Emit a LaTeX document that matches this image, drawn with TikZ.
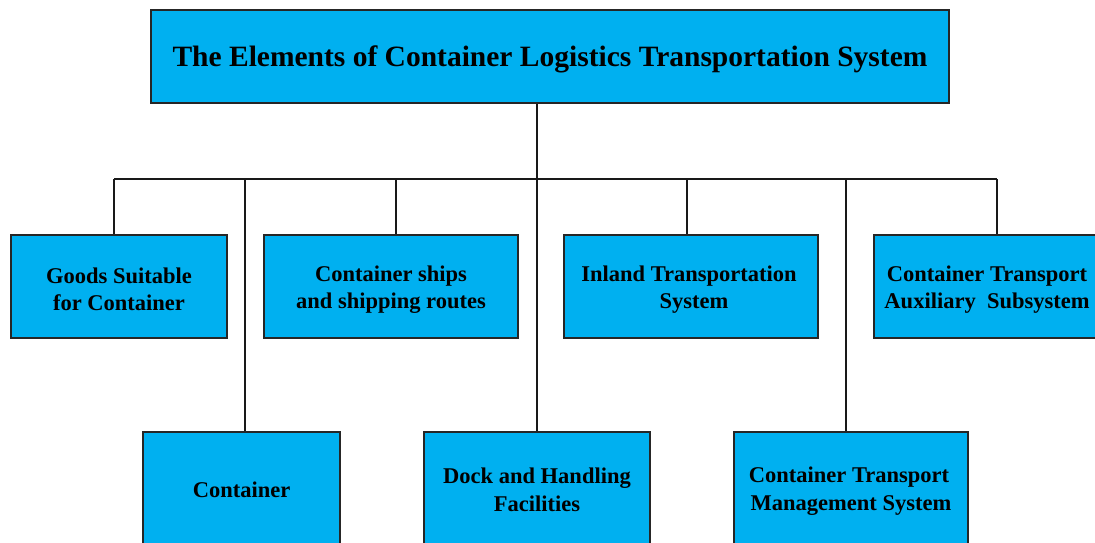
\documentclass[tikz,border=0pt]{standalone}
\usepackage{fontspec}
\setmainfont{Liberation Serif}
\begin{document}
\begin{tikzpicture}[x=1pt,y=-1pt,
  box/.style={draw=black!85,line width=1.3pt,fill=boxblue,rectangle,inner sep=0pt},
  lbl/.style={inner sep=0pt,font=\bfseries\fontsize{22.5}{27.5}\selectfont,align=center},
  conn/.style={line width=2pt,draw=black!90}]
\definecolor{boxblue}{HTML}{00B0F0}
\clip (0,0) rectangle (1095,543);
\useasboundingbox (0,0) rectangle (1095,543);
\fill[white] (0,0) rectangle (1095,543);
% top
\node[box,minimum width=798pt,minimum height=93pt] (top) at (550,56.5) {};
\node[lbl,font=\bfseries\fontsize{29.5}{33}\selectfont] (topT) at ([yshift=-3pt]top.center) {The Elements of Container Logistics Transportation System};
% row 1
\node[box,minimum width=216pt,minimum height=103pt] (goods) at (119,286.5) {};
\node[box,minimum width=254pt,minimum height=103pt] (ships) at (391,286.5) {};
\node[box,minimum width=254pt,minimum height=103pt] (inland) at (691,286.5) {};
\node[box,minimum width=226pt,minimum height=103pt] (aux) at (987,286.5) {};
\node[lbl] (goodsT) at ([yshift=-3pt]goods.center) {Goods Suitable\\for Container};
\node[lbl] (shipsT) at ([yshift=-3pt]ships.center) {Container ships\\and shipping routes};
\node[lbl] (inlandT) at ([xshift=-2pt,yshift=-3pt]inland.center) {Inland Transportation\\\hspace*{10pt}System};
\node[lbl] (auxT) at ([yshift=-3pt]aux.center) {Container Transport\\Auxiliary~ Subsystem};
% row 2
\node[box,minimum width=197pt,minimum height=116pt] (cont) at (241.5,490) {};
\node[box,minimum width=226pt,minimum height=116pt] (dock) at (537,490) {};
\node[box,minimum width=234pt,minimum height=116pt] (mgmt) at (851,490) {};
\node[lbl] (contT) at ([yshift=0pt]cont.center) {Container};
\node[lbl] (dockT) at ([yshift=0pt]dock.center) {Dock and Handling\\Facilities};
\node[lbl] (mgmtT) at ([xshift=-2pt,yshift=-1pt]mgmt.center) {Container Transport\\\hspace*{4pt}Management System};
% bus
\coordinate (busL) at (114,179);
\coordinate (busR) at (997,179);
\draw[conn] (top.south -| 537,0) -- (537,179);
\draw[conn] (busL) -- (busR);
\draw[conn] (goods.north -| busL) -- (busL);
\draw[conn] (ships.north -| 396,0) -- (396,179);
\draw[conn] (inland.north -| 687,0) -- (687,179);
\draw[conn] (aux.north -| busR) -- (busR);
\draw[conn] (cont.north -| 245,0) -- (245,179);
\draw[conn] (dock.north -| 537,0) -- (537,179);
\draw[conn] (mgmt.north -| 846,0) -- (846,179);
\end{tikzpicture}
\end{document}
